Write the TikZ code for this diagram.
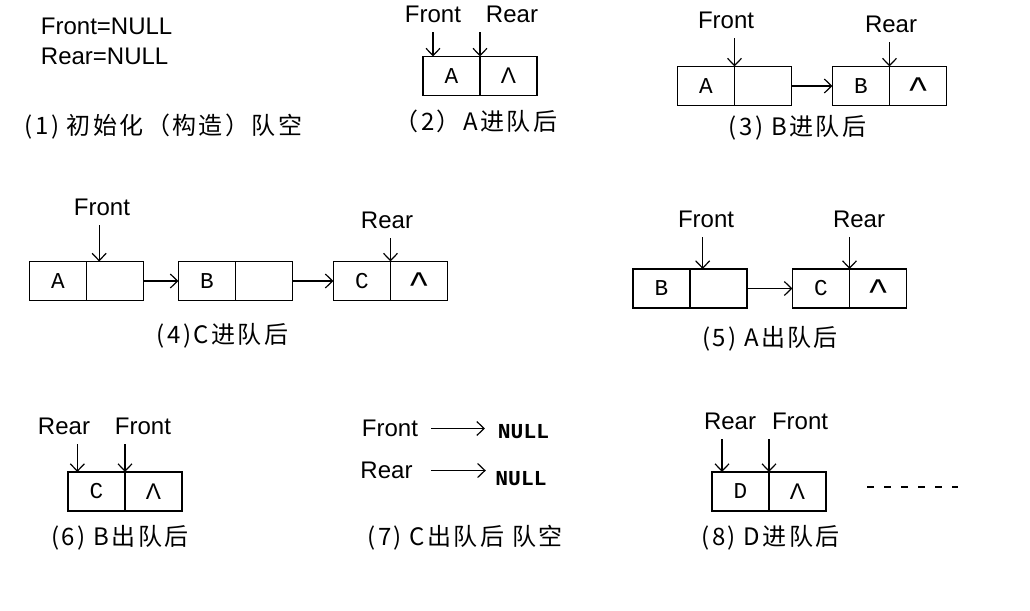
\documentclass[tikz,border=0pt]{standalone}
\usepackage{fontspec}
\setmainfont{Liberation Sans}
\newfontfamily\cjkfont[LetterSpace=10]{Noto Sans CJK SC}
\newfontfamily\cellfont{Liberation Mono}
\usetikzlibrary{arrows.meta,positioning}
\newcommand{\tailmark}{\raisebox{-13pt}[0pt][0pt]{\rmfamily\fontsize{28}{28}\selectfont\textasciicircum}}
\tikzset{
  cellbox/.style={draw,line width=1pt,outer sep=0pt,inner sep=0pt,
    minimum width=42.75pt,minimum height=29.25pt,font=\cellfont\fontsize{17}{19}\selectfont},
  ptrname/.style={inner sep=2pt,font=\fontsize{18}{21}\selectfont},
  stepcap/.style={inner sep=2pt,font=\cjkfont\fontsize{18}{21}\selectfont},
  nullword/.style={inner sep=2pt,font=\cellfont\bfseries\fontsize{16}{18}\selectfont},
  pointer/.style={-{Straight Barb[length=5.5pt,width=10.5pt]},line width=0.9pt,shorten <=5pt},
  nextlink/.style={-{Straight Barb[length=5.5pt,width=10.5pt]},line width=0.9pt}
}

\begin{document}
\begin{tikzpicture}[x=0.75pt,y=-0.75pt]
\useasboundingbox (0,0) rectangle (1030,610);

% (1) both pointers start out empty
\node[ptrname,anchor=west] (f1) at (38,26.5) {Front=NULL};
\node[ptrname,anchor=west] (r1) at (38,56.5) {Rear=NULL};
\node[stepcap] (c1) at (163.5,127) {(1) 初始化（构造）队空};

% (2)
\node[cellbox] (a2) at (451.5,76) {A};
\node[cellbox,right=0pt of a2] (a2n) {{\rmfamily Λ}};
\node[ptrname] (f2) at (433,14.5) {Front};
\node[ptrname] (r2) at (512,14.5) {Rear};
\coordinate (f2tip) at ([xshift=7.5pt]a2.north west);
\draw[pointer] (f2.south -| f2tip) -- (f2tip);
\draw[pointer] (r2.south -| a2.north east) -- (a2.north east);
\node[stepcap] (c2) at (476,121.5) {（2）A进队后};

% (3)
\node[cellbox] (a3) at (706,86) {A};
\node[cellbox,right=0pt of a3] (a3n) {};
\node[cellbox] (b3) at (861,86) {B};
\node[cellbox,right=0pt of b3] (b3n) {\tailmark};
\node[ptrname] (f3) at (726,20.5) {Front};
\node[ptrname] (r3) at (891,24.5) {Rear};
\draw[pointer] (f3.south -| a3.north east) -- (a3.north east);
\draw[pointer] (r3.south -| b3.north east) -- (b3.north east);
\draw[nextlink] (a3n.east) -- (b3.west);
\node[stepcap] (c3) at (797.5,127.5) {(3) B进队后};

% (4)
\node[cellbox] (a4) at (58,281) {A};
\node[cellbox,right=0pt of a4] (a4n) {};
\node[cellbox] (b4) at (207,281) {B};
\node[cellbox,right=0pt of b4] (b4n) {};
\node[cellbox] (c4) at (362,281) {C};
\node[cellbox,right=0pt of c4] (c4n) {\tailmark};
\node[ptrname] (f4) at (102,207.5) {Front};
\node[ptrname] (r4) at (387,220.5) {Rear};
\coordinate (f4tip) at ([xshift=9.5pt]a4.north east);
\draw[pointer] (f4.south -| f4tip) -- (f4tip);
\draw[pointer] (r4.south -| c4.north east) -- (c4.north east);
\draw[nextlink] (a4n.east) -- (b4.west);
\draw[nextlink] (b4n.east) -- (c4.west);
\node[stepcap] (c4cap) at (222.5,336) {(4)C进队后};

% (5)
\node[cellbox] (b5) at (661.5,288.5) {B};
\node[cellbox,right=0pt of b5] (b5n) {};
\node[cellbox] (c5) at (821,288.5) {C};
\node[cellbox,right=0pt of c5] (c5n) {\tailmark};
\node[ptrname] (f5) at (706,219.5) {Front};
\node[ptrname] (r5) at (859,219) {Rear};
\coordinate (f5tip) at ([xshift=9.5pt]b5.north east);
\draw[pointer] (f5.south -| f5tip) -- (f5tip);
\draw[pointer] (r5.south -| c5.north east) -- (c5.north east);
\draw[nextlink] (b5n.east) -- (c5.west);
\node[stepcap] (c5cap) at (770,339) {(5) A出队后};

% (6)
\node[cellbox] (c6) at (96.5,491.5) {C};
\node[cellbox,right=0pt of c6] (c6n) {{\rmfamily Λ}};
\node[ptrname] (r6) at (64,426.5) {Rear};
\node[ptrname] (f6) at (143,426.5) {Front};
\coordinate (r6tip) at ([xshift=7pt]c6.north west);
\draw[pointer] (r6.south -| r6tip) -- (r6tip);
\draw[pointer] (f6.south -| c6.north east) -- (c6.north east);
\node[stepcap] (c6cap) at (120,537.5) {(6) B出队后};

% (7) the queue is empty again
\node[ptrname] (f7) at (390,428.5) {Front};
\node[nullword] (n7a) at (523.5,431.5) {NULL};
\node[ptrname] (r7) at (386.5,470.5) {Rear};
\node[nullword] (n7b) at (521,479) {NULL};
\draw[nextlink,shorten <=7.7pt,shorten >=7.5pt] (f7.east) -- (f7.east -| n7a.west);
\draw[nextlink,shorten <=11.5pt,shorten >=5pt] (r7.east) -- (r7.east -| n7b.west);
\node[stepcap] (c7cap) at (465,537.5) {(7) C出队后 队空};

% (8)
\node[cellbox] (d8) at (740.5,491.5) {D};
\node[cellbox,right=0pt of d8] (d8n) {{\rmfamily Λ}};
\node[ptrname] (r8) at (730,421.5) {Rear};
\node[ptrname] (f8) at (800,421.5) {Front};
\coordinate (r8tip) at ([xshift=7.5pt]d8.north west);
\draw[pointer] (r8.south -| r8tip) -- (r8tip);
\draw[pointer] (f8.south -| d8.north east) -- (d8.north east);
\draw[line width=0.9pt,dash pattern=on 5.25pt off 7.5pt] (867,487) -- (958,487);
\node[stepcap] (c8cap) at (770.5,537.5) {(8) D进队后};
\end{tikzpicture}
\end{document}
